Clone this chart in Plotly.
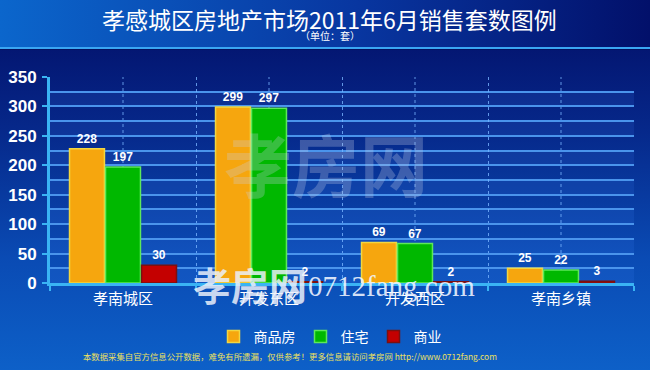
import base64
import plotly.graph_objects as go

categories = ["孝南城区", "开发东区", "开发西区", "孝南乡镇"]
series_names = ["商品房", "住宅", "商业"]
commodity = [228, 299, 69, 25]
residential = [197, 297, 67, 22]
commercial = [30, 2, 2, 3]
y_ticks = [0, 50, 100, 150, 200, 250, 300, 350]

W, H = 650, 370
ML, MR, MT, MB = 50, 16, 77, 87
PW, PH = W - ML - MR, H - MT - MB


def px(x):
    return (x - ML) / PW


def py(y):
    return (H - MB - y) / PH


svg = f"""<svg xmlns='http://www.w3.org/2000/svg' width='{W}' height='{H}' viewBox='0 0 {W} {H}' preserveAspectRatio='none'>
<defs>
<linearGradient id='h' x1='0' y1='0' x2='1' y2='0'>
<stop offset='0' stop-color='#0b66cc'/><stop offset='0.55' stop-color='#0836a0'/><stop offset='1' stop-color='#02106a'/></linearGradient>
<linearGradient id='b' x1='0' y1='0' x2='0' y2='1'>
<stop offset='0' stop-color='#020c64'/><stop offset='0.35' stop-color='#06288a'/><stop offset='0.7' stop-color='#0a4bb4'/><stop offset='1' stop-color='#0d60c8'/></linearGradient>
</defs>
<rect x='0' y='0' width='{W}' height='{H}' fill='url(#b)'/>
<rect x='0' y='0' width='{W}' height='47' fill='url(#h)'/>
<rect x='0' y='47' width='{W}' height='2' fill='#3aa6f2'/>
<rect x='0' y='49' width='{W}' height='1' fill='#031060'/>
</svg>"""
bg_uri = "data:image/svg+xml;base64," + base64.b64encode(svg.encode()).decode()

fig = go.Figure()
colors = ["#f6a60e", "#00b800", "#c40000"]
borders = ["#f2d640", "#5ee85a", "#7a1010"]
for name, vals, c, bc in zip(series_names, [commodity, residential, commercial], colors, borders):
    fig.add_trace(go.Bar(
        x=categories, y=vals, name=name,
        marker=dict(color=c, line=dict(color=bc, width=1.5)),
        text=[str(v) for v in vals], textposition="outside",
        textfont=dict(family="Liberation Sans", size=12, color="white", weight="bold"),
        cliponaxis=False,
    ))

shapes = []
for lo in range(0, 350, 50):
    shapes.append(dict(type="rect", xref="paper", yref="y", x0=0, x1=1, y0=lo, y1=lo + 25,
                       fillcolor="rgba(70,140,255,0.13)", line=dict(width=0), layer="below"))
for cat in categories:
    shapes.append(dict(type="line", xref="x", yref="paper", x0=cat, x1=cat, y0=0, y1=1,
                       line=dict(color="rgba(120,180,255,0.8)", width=1, dash="dot"), layer="below"))

annotations = [
    dict(text="孝感城区房地产市场2011年6月销售套数图例", x=px(329), y=py(19), xref="paper", yref="paper",
         showarrow=False, font=dict(family="Noto Sans CJK SC", size=23, color="white"),
         xanchor="center", yanchor="middle"),
    dict(text="（单位：套）", x=px(330), y=py(35), xref="paper", yref="paper",
         showarrow=False, font=dict(family="Noto Sans CJK SC", size=10, color="white"),
         xanchor="center", yanchor="middle"),
    dict(text="孝房网", x=px(326), y=py(162), xref="paper", yref="paper",
         showarrow=False, font=dict(family="Noto Sans CJK SC", size=68, color="rgba(200,210,230,0.28)", weight="bold"),
         xanchor="center", yanchor="middle"),
    dict(text="孝房网", x=px(250), y=py(283), xref="paper", yref="paper",
         showarrow=False, font=dict(family="Noto Sans CJK SC", size=38, color="rgba(235,240,250,0.85)", weight="bold"),
         xanchor="center", yanchor="middle"),
    dict(text="0712fang.com", x=px(306), y=py(286), xref="paper", yref="paper",
         showarrow=False, font=dict(family="Liberation Serif", size=29, color="rgba(240,245,255,0.9)"),
         xanchor="left", yanchor="middle"),
    dict(text="本数据采集自官方信息公开数据，难免有所遗漏，仅供参考！更多信息请访问孝房网 http://www.0712fang.com",
         x=px(290), y=py(356), xref="paper", yref="paper",
         showarrow=False, font=dict(family="Noto Sans CJK SC", size=8.4, color="#ece060"),
         xanchor="center", yanchor="middle"),
]

fig.update_layout(
    width=W, height=H,
    margin=dict(l=ML, r=MR, t=MT, b=MB, autoexpand=False),
    paper_bgcolor="#0a3a9c",
    plot_bgcolor="rgba(0,0,0,0)",
    barmode="group", bargap=0.26, bargroupgap=0.03,
    showlegend=True,
    legend=dict(orientation="h", x=px(330), xanchor="center", y=py(337), yanchor="middle",
                font=dict(family="Noto Sans CJK SC", size=14, color="white"),
                bgcolor="rgba(0,0,0,0)", itemwidth=30),
    images=[dict(source=bg_uri, xref="paper", yref="paper", x=-ML / PW, y=(PH + MT) / PH,
                 sizex=W / PW, sizey=H / PH, sizing="stretch", xanchor="left", yanchor="top",
                 layer="below", opacity=1)],
    shapes=shapes,
    annotations=annotations,
    xaxis=dict(type="category", tickson="boundaries", ticks="outside", ticklen=5, tickwidth=2,
               tickcolor="#3ab4f4", showline=True, linecolor="#3ab4f4", linewidth=3,
               showgrid=True, gridcolor="rgba(120,180,255,0.8)", griddash="dot", gridwidth=1,
               tickfont=dict(family="Noto Sans CJK SC", size=15, color="white"), zeroline=False,
               automargin=False),
    yaxis=dict(range=[0, 350], tickvals=y_ticks, ticks="outside", ticklen=5, tickwidth=2,
               tickcolor="#3ab4f4", showline=True, linecolor="#3ab4f4", linewidth=3,
               showgrid=True, gridcolor="#4a94ec", gridwidth=2,
               minor=dict(dtick=25, showgrid=True, gridcolor="#4a94ec", gridwidth=2),
               tickfont=dict(family="Liberation Sans", size=17, color="white", weight="bold"),
               zeroline=False, automargin=False, ticklabelstandoff=2),
)

fig.write_html("out.html", config={"displayModeBar": False},
               post_script="document.body.style.margin='0';document.body.style.overflow='hidden';")
